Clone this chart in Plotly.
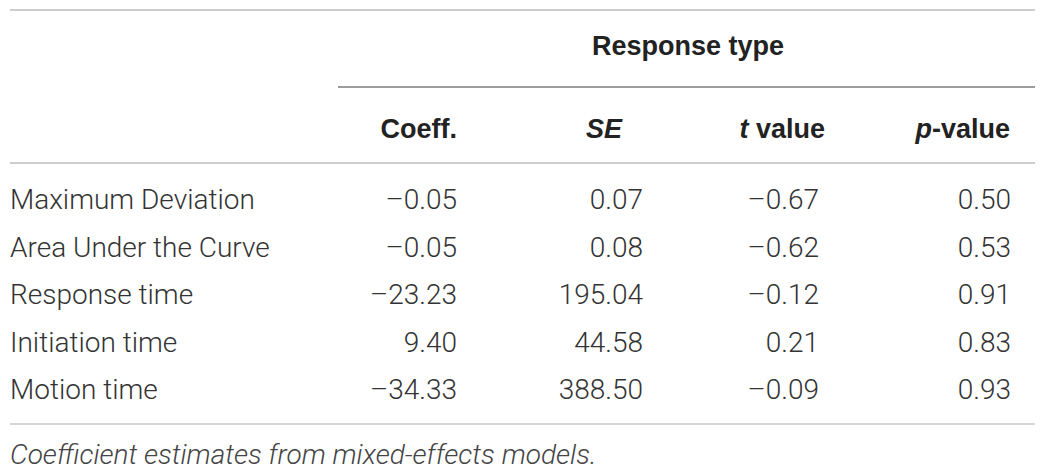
import plotly.graph_objects as go

# Table values
row_labels = ["Maximum Deviation", "Area Under the Curve", "Response time",
              "Initiation time", "Motion time"]
coeff = [-0.05, -0.05, -23.23, 9.40, -34.33]
se = [0.07, 0.08, 195.04, 44.58, 388.50]
t_value = [-0.67, -0.62, -0.12, 0.21, -0.09]
p_value = [0.50, 0.53, 0.91, 0.83, 0.93]
col_headers = ["Coeff.", "<i>SE</i>", "<i>t</i> value", "<i>p</i>-value"]
spanner = "Response type"
caption = "Coefficient estimates from mixed-effects models."

# layout in pixels (axes are mapped 1:1 to the page)
W, H = 1050, 473
row_y = [202, 250, 297, 345, 392]
num_right = [457, 643, 819, 1011]
head_right = [457, 622, 825, 1010]
head_y = 131
BODY_FONT = "Roboto, Liberation Sans, Arial, sans-serif"
HEAD_FONT = "Liberation Sans, Arial, Helvetica, sans-serif"
SIZE = 28


def fmt(v):
    # the source table prints negatives with a dash
    return f"{v:.2f}".replace("-", "\u2013")


fig = go.Figure()

# row labels
fig.add_trace(go.Scatter(x=[10] * len(row_labels), y=row_y, text=row_labels,
                         mode="text", textposition="middle right",
                         textfont=dict(family=BODY_FONT, size=SIZE, color="#333333", weight=300)))

# numeric columns
for xr, col in zip(num_right, [coeff, se, t_value, p_value]):
    fig.add_trace(go.Scatter(x=[xr] * len(col), y=row_y, text=[fmt(v) for v in col],
                             mode="text", textposition="middle left",
                             textfont=dict(family=BODY_FONT, size=SIZE, color="#333333", weight=300)))

# headers
fig.add_trace(go.Scatter(x=head_right, y=[head_y] * len(col_headers), text=col_headers,
                         mode="text", textposition="middle left",
                         textfont=dict(family=HEAD_FONT, size=27, color="#222222", weight="bold")))
fig.add_trace(go.Scatter(x=[688], y=[48], text=[spanner], mode="text",
                         textposition="middle center",
                         textfont=dict(family=HEAD_FONT, size=27, color="#222222", weight="bold")))

# caption
fig.add_trace(go.Scatter(x=[10], y=[457], text=["<i>" + caption + "</i>"], mode="text",
                         textposition="middle right",
                         textfont=dict(family=BODY_FONT, size=SIZE, color="#444444", weight=300)))

# rules
rules = [(10, 1035, 10, "#bdbdbd", 1.5),
         (338, 1035, 87, "#7a7a7a", 1.5),
         (10, 1035, 163, "#bdbdbd", 1.5),
         (10, 1035, 424, "#d6d6d6", 2)]
for x0, x1, y, c, w in rules:
    fig.add_shape(type="line", x0=x0, x1=x1, y0=y, y1=y, xref="x", yref="y",
                  line=dict(color=c, width=w))

fig.update_layout(width=W, height=H, margin=dict(l=0, r=0, t=0, b=0),
                  plot_bgcolor="white", paper_bgcolor="white", showlegend=False,
                  xaxis=dict(range=[0, W], visible=False, fixedrange=True),
                  yaxis=dict(range=[H, 0], visible=False, fixedrange=True))

fig.write_html("out.html", config={"displayModeBar": False},
               post_script="document.body.style.margin='0';")
